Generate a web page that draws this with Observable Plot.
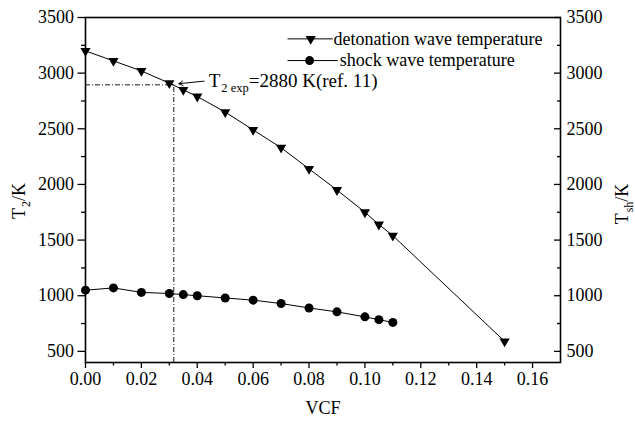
<!DOCTYPE html>
<html><head><meta charset="utf-8">
<script src="https://cdn.jsdelivr.net/npm/d3@7"></script>
<script src="https://cdn.jsdelivr.net/npm/@observablehq/plot@0.6"></script>
<style>
body{margin:0;background:#fff;}
svg{display:block;}
</style>
</head><body><div id="chart"></div>
<script>
// Detonation wave temperature (T2, K) vs VCF
const vcfDet  = [0, 0.01, 0.02, 0.03, 0.035, 0.04, 0.05, 0.06, 0.07, 0.08, 0.09, 0.10, 0.105, 0.11, 0.15];
const tempDet = [3200, 3110, 3020, 2910, 2850, 2790, 2650, 2490, 2330, 2140, 1950, 1750, 1640, 1540, 590];
// Shock wave temperature (Tsh, K) vs VCF
const vcfShock  = [0, 0.01, 0.02, 0.03, 0.035, 0.04, 0.05, 0.06, 0.07, 0.08, 0.09, 0.10, 0.105, 0.11];
const tempShock = [1050, 1070, 1030, 1020, 1010, 1000, 980, 960, 930, 890, 855, 810, 785, 760];
// Ticks
const xTicks = [0, 0.02, 0.04, 0.06, 0.08, 0.10, 0.12, 0.14, 0.16];
const xMinor = [0.01, 0.03, 0.05, 0.07, 0.09, 0.11, 0.13, 0.15];
const yTicks = [500, 1000, 1500, 2000, 2500, 3000, 3500];
const yMinor = [750, 1250, 1750, 2250, 2750, 3250];
// Reference annotation: T2 exp = 2880 K (ref. 11)
const refVcf = [0.0316];
const refTemp = [2895];
const annotParts = ["T", "2 exp", "=2880 K(ref. 11)"];
const legendLabels = ["detonation wave temperature", "shock wave temperature"];

const det = vcfDet.map((x, i) => ({x, y: tempDet[i]}));
const shock = vcfShock.map((x, i) => ({x, y: tempShock[i]}));

// legend placement (data coordinates)
const legRows = [
  {x1: 0.0723, x2: 0.0885, xm: 0.0806, xt: 0.0888, y: 3308, label: legendLabels[0]},
  {x1: 0.0723, x2: 0.0903, xm: 0.0802, xt: 0.0910, y: 3113, label: legendLabels[1]}
];

const font = "Liberation Serif, Times New Roman, serif";
const yFmt = d3.format("d");

const chart = Plot.plot({
  width: 635,
  height: 421,
  marginLeft: 85,
  marginRight: 75,
  marginTop: 17,
  marginBottom: 59,
  style: {fontFamily: font, fontSize: "18px", color: "#000", background: "#fff"},
  x: {domain: [0, 0.17]},
  y: {domain: [400, 3500]},
  marks: [
    // axes
    Plot.axisX({ticks: xTicks, tickFormat: d3.format(".2f"), tickSize: 6, tickPadding: 4, label: null, strokeWidth: 1.3}),
    Plot.axisX({ticks: xMinor, tickSize: 3.5, tickFormat: () => "", label: null, strokeWidth: 1.3}),
    Plot.axisY({ticks: yTicks, tickSize: 7.5, tickPadding: 4, tickFormat: yFmt, label: null, strokeWidth: 1.3}),
    Plot.axisY({ticks: yMinor, tickSize: 4, tickFormat: () => "", label: null, strokeWidth: 1.3}),
    Plot.axisY({anchor: "right", ticks: yTicks, tickSize: -7, tickFormat: () => "", label: null, strokeWidth: 1.3}),
    Plot.axisY({anchor: "right", ticks: yMinor, tickSize: -4, tickFormat: () => "", label: null, strokeWidth: 1.3}),
    Plot.axisY({anchor: "right", ticks: yTicks, tickSize: 0, tickPadding: 6, tickFormat: yFmt, label: null}),
    Plot.frame({stroke: "#000", strokeWidth: 1.6}),
    // axis labels
    Plot.text(["VCF"], {frameAnchor: "bottom", dy: 51, textAnchor: "middle", text: d => d}),
    Plot.text(["T2/K"], {frameAnchor: "left", dx: -66, dy: 11, textAnchor: "middle", rotate: -90, text: d => d}),
    Plot.text(["Tsh/K"], {frameAnchor: "right", dx: 62, dy: 14, textAnchor: "middle", rotate: -90, text: d => d}),
    // reference lines (dash-dot)
    Plot.ruleY(refTemp, {y: d => d, x1: 0, x2: refVcf[0] + 0.0004, stroke: "#000", strokeWidth: 0.9, strokeDasharray: "5,2,1,2"}),
    Plot.ruleX(refVcf, {x: d => d, y1: 400, y2: refTemp[0], stroke: "#000", strokeWidth: 0.9, strokeDasharray: "5,2,1,2"}),
    // data
    Plot.line(det, {x: "x", y: "y", stroke: "#000", strokeWidth: 1}),
    Plot.line(shock, {x: "x", y: "y", stroke: "#000", strokeWidth: 1}),
    Plot.dot(det, {x: "x", y: "y", symbol: "triangle", rotate: 180, r: 3.8, fill: "#000", stroke: "none"}),
    Plot.dot(shock, {x: "x", y: "y", symbol: "circle", r: 4.5, fill: "#000", stroke: "none"}),
    // annotation
    Plot.arrow([{x1: 0.0424, y1: 2928, x2: 0.0334, y2: 2905}], {x1: "x1", y1: "y1", x2: "x2", y2: "y2", stroke: "#000", strokeWidth: 1, headLength: 7, bend: 0}),
    Plot.text([annotParts.join("")], {x: 0.0441, y: 2934, text: d => d, textAnchor: "start", fontSize: 19}),
    // legend
    Plot.link(legRows, {x1: "x1", x2: "x2", y1: "y", y2: "y", stroke: "#000", strokeWidth: 1}),
    Plot.dot(legRows.slice(0, 1), {x: "xm", y: "y", symbol: "triangle", rotate: 180, r: 3.8, fill: "#000", stroke: "none"}),
    Plot.dot(legRows.slice(1), {x: "xm", y: "y", symbol: "circle", r: 4.5, fill: "#000", stroke: "none"}),
    Plot.text(legRows, {x: "xt", y: "y", text: "label", textAnchor: "start"})
  ]
});

document.getElementById("chart").appendChild(chart);

// rich text (subscripts)
function rich(key, parts, subSize, subDy) {
  d3.select(chart).selectAll("text").filter(function() { return this.textContent === key; }).each(function() {
    const t = d3.select(this);
    t.text(null);
    t.append("tspan").text(parts[0]);
    t.append("tspan").attr("font-size", subSize).attr("dx", 1).attr("dy", subDy).text(parts[1]);
    t.append("tspan").attr("dy", -subDy).text(parts[2]);
  });
}
rich(annotParts.join(""), annotParts, 12.5, 5);
rich("T2/K", ["T", "2", "/K"], 12, 5);
rich("Tsh/K", ["T", "sh", "/K"], 12, 5);

d3.select(chart).selectAll("text").attr("font-family", font);
</script>
</body></html>
